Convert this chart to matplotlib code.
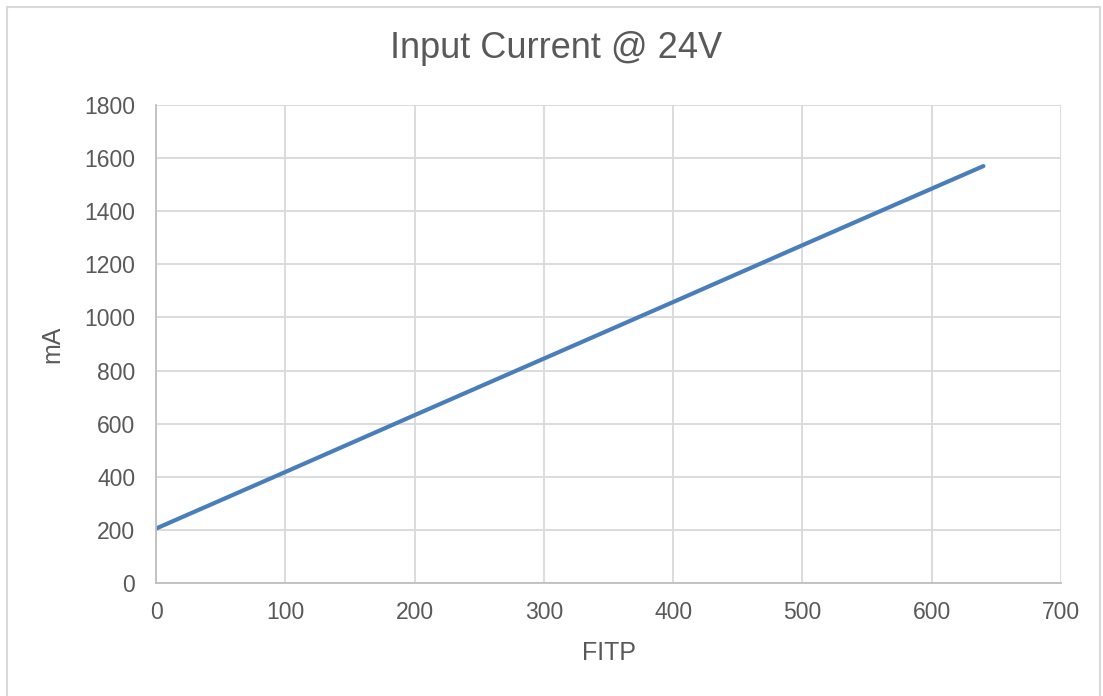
import matplotlib
matplotlib.use("Agg")
import matplotlib.pyplot as plt
from matplotlib.patches import Rectangle

fitp = [0, 100, 200, 300, 400, 500, 600, 640]
current_ma = [205, 418, 632, 845, 1058, 1272, 1485, 1570]
x_ticks = [0, 100, 200, 300, 400, 500, 600, 700]
y_ticks = [0, 200, 400, 600, 800, 1000, 1200, 1400, 1600, 1800]

plt.rcParams['font.family'] = ['Liberation Sans', 'DejaVu Sans']
txt = '#595959'
W, H = 1103, 696
fig = plt.figure(figsize=(W/100, H/100), dpi=100)
fig.patches.append(Rectangle((7/W, -0.05), (1100-7)/W, 1 - 7/H + 0.05, transform=fig.transFigure,
                             fill=False, edgecolor='#d9d9d9', linewidth=1.5))
ax = fig.add_axes([156/W, 1-583/H, (1061-156)/W, (583-105)/H])
ax.plot(fitp, current_ma, color='#4a7ebb', linewidth=3, solid_capstyle='round')
ax.set_xlim(0, 700)
ax.set_ylim(0, 1800)
ax.set_xticks(x_ticks)
ax.set_yticks(y_ticks)
ax.grid(True, color='#d9d9d9', linewidth=1.3)
ax.set_axisbelow(True)
for s in ['top', 'right']:
    ax.spines[s].set_visible(False)
for s in ['left', 'bottom']:
    ax.spines[s].set_color('#bfbfbf')
    ax.spines[s].set_linewidth(1.3)
ax.tick_params(axis='x', length=0, labelsize=16.5, colors=txt, pad=13)
ax.tick_params(axis='y', length=0, labelsize=16.5, colors=txt, pad=15)
ax.set_xlabel('FITP', fontsize=18, color=txt, labelpad=12)
ax.set_ylabel('mA', fontsize=18, color=txt, labelpad=14)
fig.text(556/W, 1-49/H, 'Input Current @ 24V', fontsize=26, color=txt, ha='center', va='center')
fig.savefig('out.png', dpi=100)
